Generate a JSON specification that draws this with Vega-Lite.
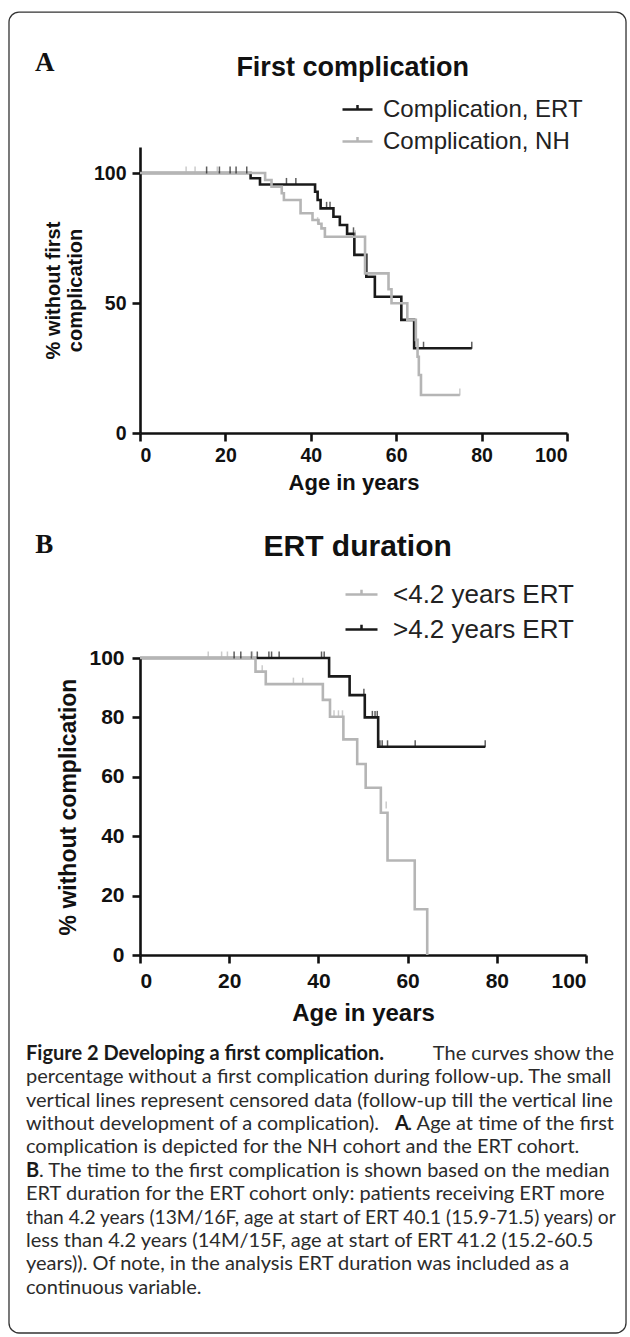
{
  "$schema": "https://vega.github.io/schema/vega-lite/v6.json",
  "background": "white",
  "padding": {"left": 8, "top": 11, "right": 0, "bottom": 0},
  "config": {
    "font": "Liberation Sans",
    "view": {"stroke": null},
    "axis": {
      "grid": false,
      "domainColor": "#111111",
      "domainWidth": 2.6,
      "tickColor": "#111111",
      "tickWidth": 2.6,
      "tickSize": 8,
      "labelFont": "Liberation Sans",
      "labelFontWeight": "bold",
      "labelFontSize": 19.5,
      "labelColor": "#111111",
      "labelPadding": 5,
      "titleFont": "Liberation Sans",
      "titleFontWeight": "bold",
      "titleFontSize": 21,
      "titleColor": "#111111"
    },
    "legend": {
      "symbolType": "M-1,0H1M0,0V-0.3", "symbolStrokeWidth": 2.5,
      "labelFont": "Liberation Sans", "labelColor": "#222222", "labelLimit": 400
    }
  },
  "datasets": {
    "a_lines": [
      {"group": "Complication, ERT", "age": 0, "pct": 100},
      {"group": "Complication, ERT", "age": 25.9, "pct": 98.0},
      {"group": "Complication, ERT", "age": 28.1, "pct": 95.6},
      {"group": "Complication, ERT", "age": 41.0, "pct": 92.8},
      {"group": "Complication, ERT", "age": 41.6, "pct": 89.6},
      {"group": "Complication, ERT", "age": 42.3, "pct": 86.4},
      {"group": "Complication, ERT", "age": 45.3, "pct": 83.2},
      {"group": "Complication, ERT", "age": 46.8, "pct": 80.0},
      {"group": "Complication, ERT", "age": 48.5, "pct": 76.6},
      {"group": "Complication, ERT", "age": 50.2, "pct": 68.5},
      {"group": "Complication, ERT", "age": 53.0, "pct": 60.1},
      {"group": "Complication, ERT", "age": 55.0, "pct": 52.4},
      {"group": "Complication, ERT", "age": 61.2, "pct": 43.5},
      {"group": "Complication, ERT", "age": 64.2, "pct": 32.6},
      {"group": "Complication, ERT", "age": 77.7, "pct": 32.6},
      {"group": "Complication, NH", "age": 0, "pct": 100},
      {"group": "Complication, NH", "age": 29.3, "pct": 97.3},
      {"group": "Complication, NH", "age": 30.8, "pct": 94.7},
      {"group": "Complication, NH", "age": 33.2, "pct": 92.2},
      {"group": "Complication, NH", "age": 33.7, "pct": 89.6},
      {"group": "Complication, NH", "age": 37.6, "pct": 84.5},
      {"group": "Complication, NH", "age": 40.4, "pct": 81.9},
      {"group": "Complication, NH", "age": 41.8, "pct": 80.5},
      {"group": "Complication, NH", "age": 42.5, "pct": 78.7},
      {"group": "Complication, NH", "age": 43.3, "pct": 75.5},
      {"group": "Complication, NH", "age": 52.7, "pct": 61.4},
      {"group": "Complication, NH", "age": 58.2, "pct": 55.3},
      {"group": "Complication, NH", "age": 58.9, "pct": 49.9},
      {"group": "Complication, NH", "age": 62.6, "pct": 43.5},
      {"group": "Complication, NH", "age": 64.6, "pct": 35.8},
      {"group": "Complication, NH", "age": 65.0, "pct": 29.3},
      {"group": "Complication, NH", "age": 65.3, "pct": 22.3},
      {"group": "Complication, NH", "age": 65.8, "pct": 14.6},
      {"group": "Complication, NH", "age": 74.9, "pct": 14.6}
    ],
    "a_cens": [
      {"group": "Complication, ERT", "age": 15.6, "pct": 100},
      {"group": "Complication, ERT", "age": 18.6, "pct": 100},
      {"group": "Complication, ERT", "age": 21.1, "pct": 100},
      {"group": "Complication, ERT", "age": 22.5, "pct": 100},
      {"group": "Complication, ERT", "age": 25.0, "pct": 100},
      {"group": "Complication, ERT", "age": 34.3, "pct": 95.6},
      {"group": "Complication, ERT", "age": 36.5, "pct": 95.6},
      {"group": "Complication, ERT", "age": 43.7, "pct": 86.4},
      {"group": "Complication, ERT", "age": 44.5, "pct": 86.4},
      {"group": "Complication, ERT", "age": 50.0, "pct": 76.6},
      {"group": "Complication, ERT", "age": 66.4, "pct": 32.6},
      {"group": "Complication, ERT", "age": 77.7, "pct": 32.6},
      {"group": "Complication, NH", "age": 10.8, "pct": 100},
      {"group": "Complication, NH", "age": 12.9, "pct": 100},
      {"group": "Complication, NH", "age": 18.1, "pct": 100},
      {"group": "Complication, NH", "age": 41.6, "pct": 80.5},
      {"group": "Complication, NH", "age": 50.4, "pct": 75.5},
      {"group": "Complication, NH", "age": 74.9, "pct": 14.6}
    ],
    "b_lines": [
      {"group": ">4.2 years ERT", "age": 0, "pct": 100},
      {"group": ">4.2 years ERT", "age": 42.4, "pct": 93.8},
      {"group": ">4.2 years ERT", "age": 47.0, "pct": 87.5},
      {"group": ">4.2 years ERT", "age": 50.4, "pct": 80.0},
      {"group": ">4.2 years ERT", "age": 53.4, "pct": 70.1},
      {"group": ">4.2 years ERT", "age": 77.4, "pct": 70.1},
      {"group": "<4.2 years ERT", "age": 0, "pct": 100},
      {"group": "<4.2 years ERT", "age": 25.9, "pct": 95.4},
      {"group": "<4.2 years ERT", "age": 28.2, "pct": 91.2},
      {"group": "<4.2 years ERT", "age": 41.0, "pct": 85.9},
      {"group": "<4.2 years ERT", "age": 42.6, "pct": 80.2},
      {"group": "<4.2 years ERT", "age": 45.6, "pct": 72.6},
      {"group": "<4.2 years ERT", "age": 48.7, "pct": 64.3},
      {"group": "<4.2 years ERT", "age": 50.6, "pct": 56.3},
      {"group": "<4.2 years ERT", "age": 54.0, "pct": 47.9},
      {"group": "<4.2 years ERT", "age": 55.5, "pct": 31.8},
      {"group": "<4.2 years ERT", "age": 61.6, "pct": 15.4},
      {"group": "<4.2 years ERT", "age": 64.4, "pct": 0}
    ],
    "b_cens": [
      {"group": ">4.2 years ERT", "age": 21.1, "pct": 100},
      {"group": ">4.2 years ERT", "age": 22.6, "pct": 100},
      {"group": ">4.2 years ERT", "age": 25.0, "pct": 100},
      {"group": ">4.2 years ERT", "age": 26.3, "pct": 100},
      {"group": ">4.2 years ERT", "age": 28.9, "pct": 100},
      {"group": ">4.2 years ERT", "age": 29.5, "pct": 100},
      {"group": ">4.2 years ERT", "age": 31.2, "pct": 100},
      {"group": ">4.2 years ERT", "age": 40.7, "pct": 100},
      {"group": ">4.2 years ERT", "age": 41.3, "pct": 100},
      {"group": ">4.2 years ERT", "age": 50.2, "pct": 87.5},
      {"group": ">4.2 years ERT", "age": 52.1, "pct": 80.0},
      {"group": ">4.2 years ERT", "age": 52.7, "pct": 80.0},
      {"group": ">4.2 years ERT", "age": 53.2, "pct": 80.0},
      {"group": ">4.2 years ERT", "age": 53.8, "pct": 70.1},
      {"group": ">4.2 years ERT", "age": 54.3, "pct": 70.1},
      {"group": ">4.2 years ERT", "age": 55.5, "pct": 70.1},
      {"group": ">4.2 years ERT", "age": 61.7, "pct": 70.1},
      {"group": ">4.2 years ERT", "age": 77.4, "pct": 70.1},
      {"group": "<4.2 years ERT", "age": 15.3, "pct": 100},
      {"group": "<4.2 years ERT", "age": 18.3, "pct": 100},
      {"group": "<4.2 years ERT", "age": 19.6, "pct": 100},
      {"group": "<4.2 years ERT", "age": 25.2, "pct": 100},
      {"group": "<4.2 years ERT", "age": 27.4, "pct": 95.4},
      {"group": "<4.2 years ERT", "age": 34.4, "pct": 91.2},
      {"group": "<4.2 years ERT", "age": 36.5, "pct": 91.2},
      {"group": "<4.2 years ERT", "age": 43.5, "pct": 80.2},
      {"group": "<4.2 years ERT", "age": 44.5, "pct": 80.2},
      {"group": "<4.2 years ERT", "age": 45.4, "pct": 80.2},
      {"group": "<4.2 years ERT", "age": 55.2, "pct": 49.5}
    ],
    "caption": [
      {"line": 1, "part": "leftbold", "text": "Figure 2 Developing a first complication."},
      {"line": 1, "part": "right", "text": "The curves show the"},
      {"line": 2, "part": "left", "text": "percentage without a first complication during follow-up. The small"},
      {"line": 3, "part": "left", "text": "vertical lines represent censored data (follow-up till the vertical line"},
      {"line": 4, "part": "left", "text": "without development of a complication)."},
      {"line": 4, "part": "midbold", "text": "A"},
      {"line": 4, "part": "right", "text": ". Age at time of the first"},
      {"line": 5, "part": "left", "text": "complication is depicted for the NH cohort and the ERT cohort."},
      {"line": 6, "part": "leftbold", "text": "B"},
      {"line": 6, "part": "afterbold", "text": ". The time to the first complication is shown based on the median"},
      {"line": 7, "part": "left", "text": "ERT duration for the ERT cohort only: patients receiving ERT more"},
      {"line": 8, "part": "leftnarrow", "text": "than 4.2 years (13M/16F, age at start of ERT 40.1 (15.9-71.5) years) or"},
      {"line": 9, "part": "left", "text": "less than 4.2 years (14M/15F, age at start of ERT 41.2 (15.2-60.5"},
      {"line": 10, "part": "left", "text": "years)). Of note, in the analysis ERT duration was included as a"},
      {"line": 11, "part": "left", "text": "continuous variable."}
    ]
  },
  "align": "none",
  "bounds": "flush",
  "spacing": 225,
  "resolve": {"scale": {"color": "independent"}, "legend": {"color": "independent"}},
  "vconcat": [
    {
      "width": 427,
      "height": 286,
      "layer": [
        {
          "data": {"name": "a_lines"},
          "mark": {"type": "line", "interpolate": "step-after", "strokeWidth": 2.6},
          "encoding": {
            "x": {"field": "age", "type": "quantitative", "scale": {"domain": [0, 100], "nice": false}, "axis": {"values": [0, 20, 40, 60, 80, 100], "title": "Age in years", "titlePadding": 8, "titleFontSize": 22}},
            "y": {"field": "pct", "type": "quantitative", "scale": {"domain": [0, 110], "nice": false}, "axis": {"values": [0, 50, 100], "title": ["% without first", "complication"], "titlePadding": 8, "titleFontSize": 20, "labelPadding": 6}},
            "color": {
              "field": "group", "type": "nominal",
              "scale": {"domain": ["Complication, ERT", "Complication, NH"], "range": ["#1a1a1a", "#b5b5b5"]},
              "legend": {
                "orient": "none", "legendX": 201, "legendY": -54, "title": null,
                "symbolSize": 900, "labelFontSize": 24, "labelOffset": 9, "rowPadding": 3
              }
            }
          }
        },
        {
          "data": {"name": "a_cens"},
          "mark": {"type": "tick", "orient": "vertical", "size": 7, "thickness": 1.5, "yOffset": -3},
          "encoding": {
            "x": {"field": "age", "type": "quantitative", "scale": {"domain": [0, 100], "nice": false}},
            "y": {"field": "pct", "type": "quantitative", "scale": {"domain": [0, 110], "nice": false}},
            "color": {"field": "group", "type": "nominal", "legend": null}
          }
        },
        {
          "data": {"values": [{"label": "First complication"}]},
          "mark": {"type": "text", "align": "center", "baseline": "alphabetic", "font": "Liberation Sans", "fontWeight": "bold", "fontSize": 27, "color": "#111111"},
          "encoding": {
            "x": {"datum": 49.8, "type": "quantitative", "scale": {"domain": [0, 100], "nice": false}},
            "y": {"datum": 137.3, "type": "quantitative", "scale": {"domain": [0, 110], "nice": false}},
            "text": {"field": "label"}
          }
        },
        {
          "data": {"values": [{"label": "A"}]},
          "mark": {"type": "text", "align": "left", "baseline": "alphabetic", "font": "Liberation Serif", "fontWeight": "bold", "fontSize": 27, "color": "#111111"},
          "encoding": {
            "x": {"datum": -24.6, "type": "quantitative", "scale": {"domain": [0, 100], "nice": false}},
            "y": {"datum": 139.2, "type": "quantitative", "scale": {"domain": [0, 110], "nice": false}},
            "text": {"field": "label"}
          }
        },
        {
          "data": {"values": [{"frame": "border"}]},
          "mark": {"type": "rect", "fill": "white", "fillOpacity": 0, "stroke": "#333333", "strokeWidth": 1.3, "cornerRadius": 10, "clip": false},
          "encoding": {
            "x": {"datum": -30.68, "type": "quantitative", "scale": {"domain": [0, 100], "nice": false}},
            "x2": {"datum": 113.82},
            "y": {"datum": 161.9, "type": "quantitative", "scale": {"domain": [0, 110], "nice": false}},
            "y2": {"datum": -346.15}
          }
        }
      ]
    },
    {
      "width": 446,
      "height": 297,
      "layer": [
        {
          "data": {"name": "b_lines"},
          "mark": {"type": "line", "interpolate": "step-after", "strokeWidth": 2.6},
          "encoding": {
            "x": {"field": "age", "type": "quantitative", "scale": {"domain": [0, 100], "nice": false}, "axis": {"values": [0, 20, 40, 60, 80, 100], "title": "Age in years", "titlePadding": 10, "labelPadding": 7, "labelFontSize": 21, "titleFontSize": 24}},
            "y": {"field": "pct", "type": "quantitative", "scale": {"domain": [0, 100], "nice": false}, "axis": {"values": [0, 20, 40, 60, 80, 100], "title": "% without complication", "titlePadding": 8, "labelPadding": 8, "labelFontSize": 21, "titleFontSize": 23}},
            "color": {
              "field": "group", "type": "nominal",
              "scale": {"domain": ["<4.2 years ERT", ">4.2 years ERT"], "range": ["#b5b5b5", "#1a1a1a"]},
              "legend": {
                "orient": "none", "legendX": 204, "legendY": -81, "title": null,
                "symbolSize": 1024, "labelFontSize": 26, "labelOffset": 14, "rowPadding": 4
              }
            }
          }
        },
        {
          "data": {"name": "b_cens"},
          "mark": {"type": "tick", "orient": "vertical", "size": 7, "thickness": 1.5, "yOffset": -3},
          "encoding": {
            "x": {"field": "age", "type": "quantitative", "scale": {"domain": [0, 100], "nice": false}},
            "y": {"field": "pct", "type": "quantitative", "scale": {"domain": [0, 100], "nice": false}},
            "color": {"field": "group", "type": "nominal", "legend": null}
          }
        },
        {
          "data": {"values": [{"label": "ERT duration"}]},
          "mark": {"type": "text", "align": "center", "baseline": "alphabetic", "font": "Liberation Sans", "fontWeight": "bold", "fontSize": 30, "color": "#111111"},
          "encoding": {
            "x": {"datum": 48.8, "type": "quantitative", "scale": {"domain": [0, 100], "nice": false}},
            "y": {"datum": 134.3, "type": "quantitative", "scale": {"domain": [0, 100], "nice": false}},
            "text": {"field": "label"}
          }
        },
        {
          "data": {"values": [{"label": "B"}]},
          "mark": {"type": "text", "align": "left", "baseline": "alphabetic", "font": "Liberation Serif", "fontWeight": "bold", "fontSize": 27, "color": "#111111"},
          "encoding": {
            "x": {"datum": -23.5, "type": "quantitative", "scale": {"domain": [0, 100], "nice": false}},
            "y": {"datum": 135.4, "type": "quantitative", "scale": {"domain": [0, 100], "nice": false}},
            "text": {"field": "label"}
          }
        }
      ]
    },
    {
      "width": 470,
      "height": {"step": 25.7},
      "data": {"name": "caption"},
      "encoding": {
        "y": {"field": "line", "type": "ordinal", "axis": null, "scale": {"paddingInner": 0, "paddingOuter": 0}},
        "text": {"field": "text"}
      },
      "layer": [
        {
          "transform": [{"filter": "datum.part === 'left'"}],
          "mark": {"type": "text", "align": "left", "baseline": "middle", "font": "Lato", "fontSize": 20, "color": "#2b2b2b", "dx": -114, "dy": -137.7},
          "encoding": {"x": {"value": 0}}
        },
        {
          "transform": [{"filter": "datum.part === 'leftnarrow'"}],
          "mark": {"type": "text", "align": "left", "baseline": "middle", "font": "Lato", "fontSize": 19.2, "color": "#2b2b2b", "dx": -114, "dy": -137.7},
          "encoding": {"x": {"value": 0}}
        },
        {
          "transform": [{"filter": "datum.part === 'leftbold'"}],
          "mark": {"type": "text", "align": "left", "baseline": "middle", "font": "Lato", "fontSize": 20, "fontWeight": "bold", "color": "#1a1a1a", "dx": -114, "dy": -137.7},
          "encoding": {"x": {"value": 0}}
        },
        {
          "transform": [{"filter": "datum.part === 'afterbold'"}],
          "mark": {"type": "text", "align": "left", "baseline": "middle", "font": "Lato", "fontSize": 20, "color": "#2b2b2b", "dx": -101, "dy": -137.7},
          "encoding": {"x": {"value": 0}}
        },
        {
          "transform": [{"filter": "datum.part === 'right'"}],
          "mark": {"type": "text", "align": "right", "baseline": "middle", "font": "Lato", "fontSize": 20, "color": "#2b2b2b", "dx": 4, "dy": -137.7},
          "encoding": {"x": {"value": "width"}}
        },
        {
          "transform": [{"filter": "datum.part === 'midbold'"}],
          "mark": {"type": "text", "align": "right", "baseline": "middle", "font": "Lato", "fontSize": 20, "fontWeight": "bold", "color": "#1a1a1a", "dx": -201, "dy": -137.7},
          "encoding": {"x": {"value": "width"}}
        }
      ]
    }
  ]
}
